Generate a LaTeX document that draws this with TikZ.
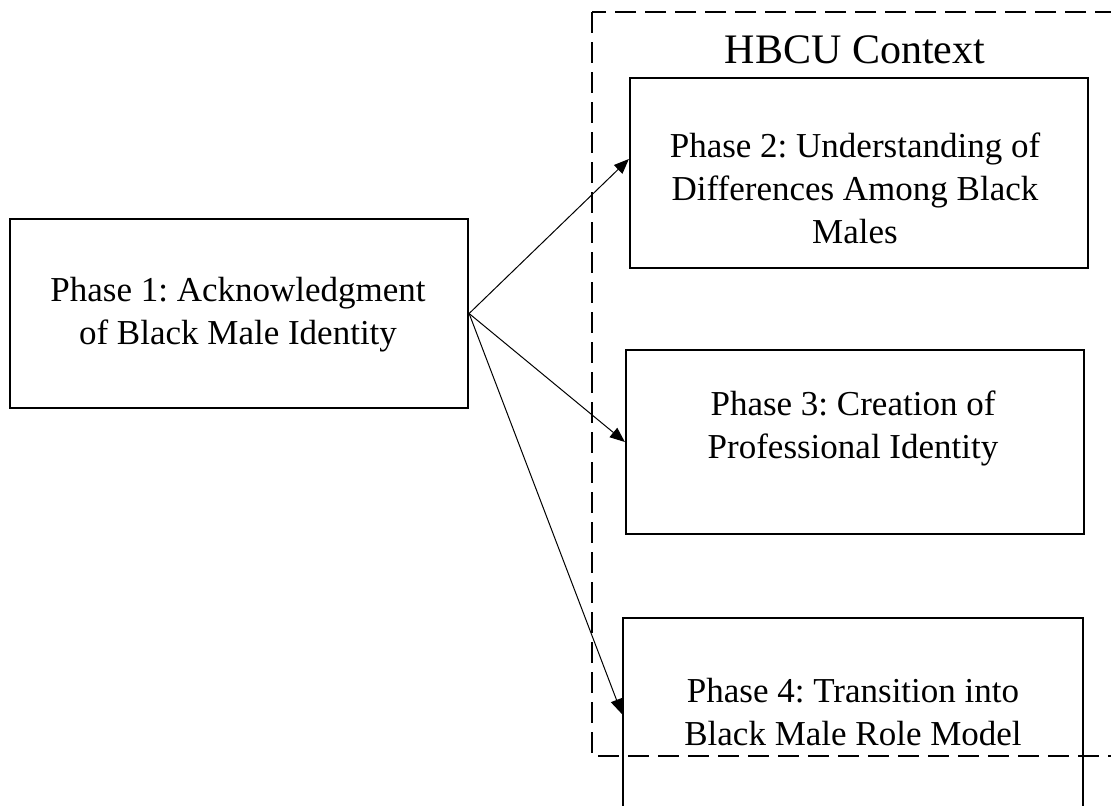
\documentclass[tikz,border=0pt]{standalone}
\usepackage{fontspec}
\setmainfont{Liberation Serif}
\usetikzlibrary{positioning,calc,arrows.meta}
\frenchspacing

\begin{document}
\begin{tikzpicture}[x=0.5pt, y=-0.5pt, >={Triangle[length=7.5pt,width=6pt]}]
	\clip (0,0) rectangle (1111,805);
	\tikzstyle{phasebox}=[draw, line width=1.1pt, minimum width=229pt, inner sep=0pt]
	\tikzstyle{phasetext}=[align=center, inner sep=1pt, font=\fontsize{17.5}{21.5}\selectfont]

	% context frame
	\draw[line width=1.1pt, dash pattern=on 10.5pt off 4.5pt] (592,12) rectangle (1130,756);
	\node[font=\fontsize{21}{25}\selectfont] (hbcu) at (855,50) {HBCU Context};

	\node[phasebox, minimum height=94.5pt] (p1) at (239,313.5) {};
	\node[phasebox, minimum height=95pt] (p2) at (859,173) {};
	\node[phasebox, minimum height=92pt] (p3) at (855,442) {};
	\node[phasebox, minimum height=96pt, minimum width=230pt] (p4) at (853,714) {};

	\node[phasetext] (t1) at (238,315) {Phase 1: Acknowledgment\\of Black Male Identity};
	\node[phasetext] (t2) at (855,188) {Phase 2: Understanding of\\Differences Among Black\\Males};
	\node[phasetext] (t3) at (853,428) {Phase 3: Creation of\\Professional Identity};
	\node[phasetext] (t4) at (853,712) {Phase 4: Transition into\\Black Male Role Model};

	\draw[->, line width=0.5pt] (p1.east) to ([yshift=7pt]p2.west);
	\draw[->, line width=0.5pt] (p1.east) to (p3.west);
	\draw[->, line width=0.5pt] (p1.east) to (p4.west);
\end{tikzpicture}
\end{document}
